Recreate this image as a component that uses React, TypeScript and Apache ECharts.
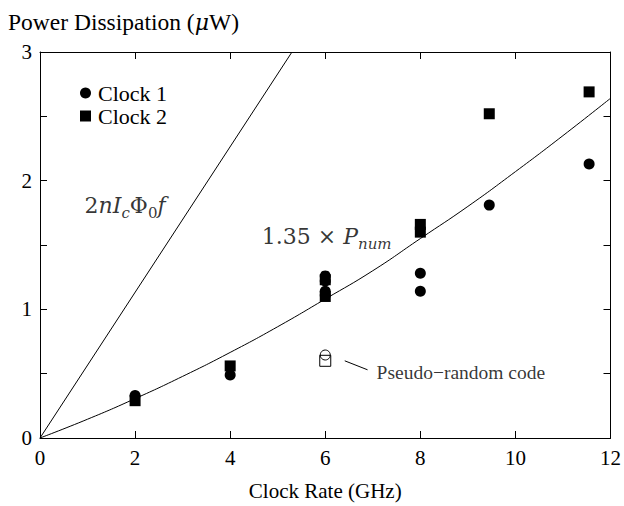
import React, { useEffect, useRef } from "react";
import * as echarts from "echarts";

// Measured points (GHz, µW)
const clock1X = [2, 4, 6, 6, 6, 6, 8, 8, 9.45, 11.55];
const clock1Y = [0.33, 0.49, 1.26, 1.22, 1.14, 1.11, 1.28, 1.14, 1.81, 2.13];
const clock2X = [2, 4, 6, 6, 8, 8, 9.45, 11.55];
const clock2Y = [0.29, 0.56, 1.23, 1.1, 1.66, 1.6, 2.52, 2.69];

// Pseudo-random code points (open markers)
const pseudoCircle = [6, 0.645];
const pseudoSquare = [6, 0.6];

// 1.35 x P_num curve
const modelX = [0, 1, 2, 3, 4, 5, 6, 7, 8, 9, 10, 11, 12];
const modelY = [0, 0.146, 0.306, 0.479, 0.665, 0.865, 1.08, 1.3, 1.55, 1.8, 2.07, 2.35, 2.64];

// 2 n Ic Phi0 f line end points
const linearX = [0, 5.3];
const linearY = [0, 3];

// leader line for the pseudo-random label
const leaderX = [6.41, 6.89];
const leaderY = [0.6, 0.53];

const xTicks = [0, 2, 4, 6, 8, 10, 12];
const yTicks = [0, 1, 2, 3];

const SERIF = "Liberation Serif";
const MATH = "DejaVu Serif";

export default function App() {
  const ref = useRef<HTMLDivElement>(null);
  useEffect(() => {
    if (!ref.current) return;
    const chart = echarts.init(ref.current, undefined, { renderer: "svg" });
    const zip = (xs: number[], ys: number[]) => xs.map((x, i) => [x, ys[i]]);
    const mainRich = {
      r: { fontFamily: MATH, fontSize: 22, color: "#000", lineHeight: 30, verticalAlign: "middle" },
      i: { fontFamily: MATH, fontStyle: "italic", fontSize: 22, color: "#000", lineHeight: 30, verticalAlign: "middle" },
      si: { fontFamily: MATH, fontStyle: "italic", fontSize: 15, color: "#000", lineHeight: 16, verticalAlign: "bottom" },
      sr: { fontFamily: MATH, fontSize: 15, color: "#000", lineHeight: 16, verticalAlign: "bottom" },
      t: { fontFamily: SERIF, fontSize: 19.5, color: "#000", lineHeight: 24 },
    };
    const axisCommon = {
      min: 0,
      axisLine: { show: true, onZero: false, lineStyle: { color: "#000", width: 1 } },
      axisTick: { show: true, inside: true, length: 7, lineStyle: { color: "#000", width: 1 } },
      splitLine: { show: false },
    };
    chart.setOption({
      animation: false,
      backgroundColor: "#fff",
      title: {
        text: "Power Dissipation ({m|μ}W)",
        left: 3,
        top: 5,
        textStyle: {
          fontFamily: SERIF,
          fontSize: 23.5,
          fontWeight: "normal",
          color: "#000",
          rich: {
            m: { fontFamily: MATH, fontStyle: "italic", fontSize: 22, color: "#000" },
          },
        },
      },
      legend: {
        data: [
          { name: "Clock 1", icon: "circle" },
          { name: "Clock 2", icon: "rect" },
        ],
        orient: "vertical",
        left: 75,
        top: 77,
        itemWidth: 11,
        itemHeight: 11,
        itemGap: 1,
        textStyle: { fontFamily: SERIF, fontSize: 22, color: "#000", lineHeight: 22, padding: [0, 0, 0, 2] },
      },
      grid: { left: 40, right: 13, top: 52, bottom: 59, containLabel: false },
      xAxis: [
        {
          ...axisCommon,
          type: "value",
          max: 12,
          interval: 2,
          position: "bottom",
          name: "Clock Rate (GHz)",
          nameLocation: "middle",
          nameGap: 42,
          nameTextStyle: { fontFamily: SERIF, fontSize: 21, color: "#000" },
          axisLabel: {
            fontFamily: SERIF,
            fontSize: 21,
            color: "#000",
            margin: 9,
            formatter: (v: number) => (xTicks.includes(v) ? String(v) : ""),
          },
        },
        {
          ...axisCommon,
          type: "value",
          max: 12,
          interval: 2,
          position: "top",
          axisLabel: { show: false },
        },
      ],
      yAxis: [
        {
          ...axisCommon,
          type: "value",
          max: 3,
          interval: 0.5,
          position: "left",
          axisLabel: {
            fontFamily: SERIF,
            fontSize: 21,
            color: "#000",
            margin: 8,
            formatter: (v: number) => (yTicks.includes(v) ? String(v) : ""),
          },
        },
        {
          ...axisCommon,
          type: "value",
          max: 3,
          interval: 0.5,
          position: "right",
          axisLabel: { show: false },
        },
      ],
      series: [
        {
          type: "line",
          name: "model",
          data: zip(modelX, modelY),
          smooth: true,
          showSymbol: false,
          lineStyle: { color: "#000", width: 1 },
          z: 2,
        },
        {
          type: "line",
          name: "linear",
          data: zip(linearX, linearY),
          showSymbol: false,
          lineStyle: { color: "#000", width: 1 },
          z: 2,
        },
        {
          type: "line",
          name: "leader",
          data: zip(leaderX, leaderY),
          showSymbol: false,
          lineStyle: { color: "#000", width: 1 },
          z: 2,
        },
        {
          type: "scatter",
          name: "Clock 1",
          data: zip(clock1X, clock1Y),
          symbol: "circle",
          symbolSize: 11,
          itemStyle: { color: "#000", opacity: 1 },
          z: 4,
        },
        {
          type: "scatter",
          name: "Clock 2",
          data: zip(clock2X, clock2Y),
          symbol: "rect",
          symbolSize: 11,
          itemStyle: { color: "#000", opacity: 1 },
          z: 5,
        },
        {
          type: "scatter",
          name: "pseudoSquare",
          data: [pseudoSquare],
          symbol: "rect",
          symbolSize: 11,
          itemStyle: { color: "rgba(0,0,0,0)", borderColor: "#000", borderWidth: 1, opacity: 1 },
          z: 4,
        },
        {
          type: "scatter",
          name: "pseudoCircle",
          data: [pseudoCircle],
          symbol: "circle",
          symbolSize: 10,
          itemStyle: { color: "rgba(0,0,0,0)", borderColor: "#000", borderWidth: 1, opacity: 1 },
          z: 5,
        },
        {
          type: "scatter",
          name: "annotations",
          symbolSize: 0,
          silent: true,
          z: 6,
          data: [
            {
              value: [1.79, 1.81],
              label: {
                show: true,
                position: "inside",
                formatter: "{r|2}{i|nI}{si|c}{r|Φ}{sr|0}{i|f}",
                rich: mainRich,
              },
            },
            {
              value: [6.03, 1.565],
              label: {
                show: true,
                position: "inside",
                formatter: "{r|1.35 × }{i|P}{si|num}",
                rich: mainRich,
              },
            },
            {
              value: [7.08, 0.51],
              label: {
                show: true,
                position: "right",
                distance: 0,
                formatter: "{t|Pseudo−random code}",
                rich: mainRich,
              },
            },
          ],
        },
      ],
    });
    return () => chart.dispose();
  }, []);
  return (
    <div
      ref={ref}
      style={{ position: "absolute", left: 0, top: 0, width: 624, height: 506, background: "#fff" }}
    />
  );
}
